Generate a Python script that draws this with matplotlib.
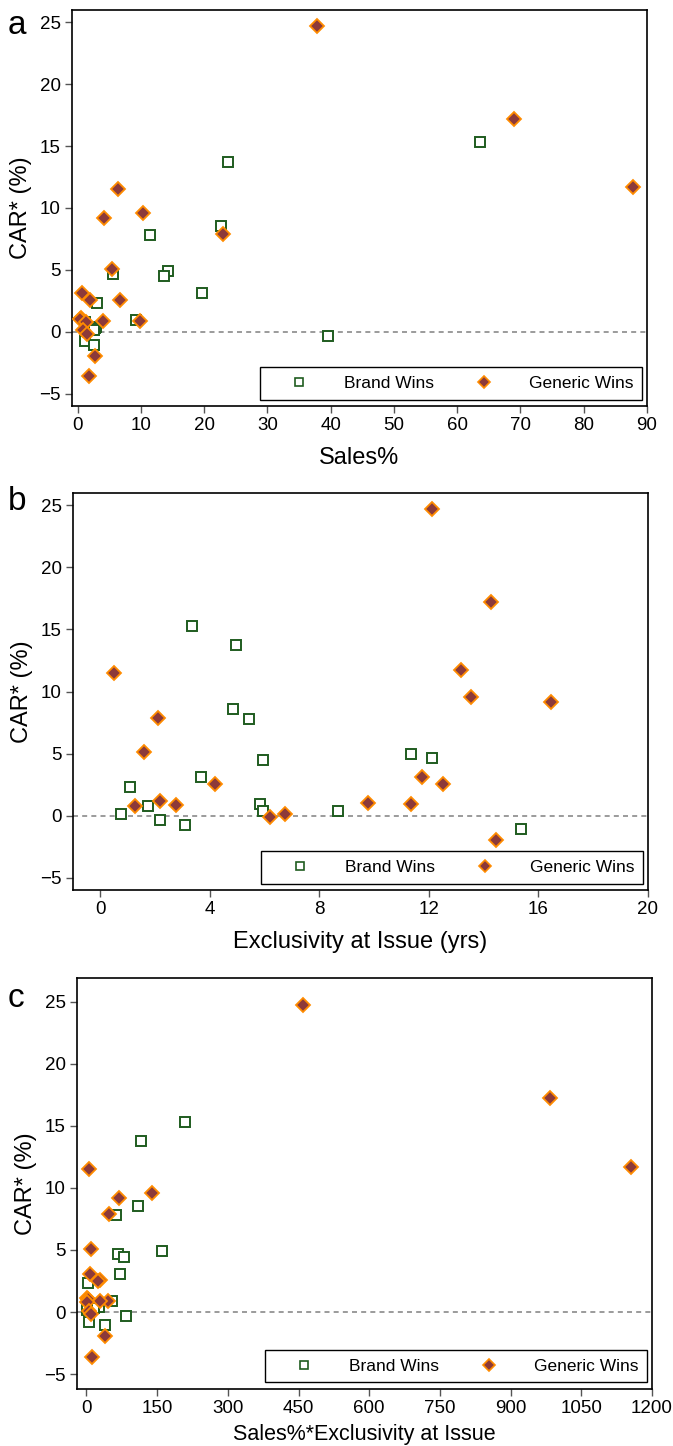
import numpy as np
import matplotlib
matplotlib.use("Agg")
import matplotlib.pyplot as plt
from matplotlib.lines import Line2D

# ---- data ----
# Brand wins
brand_car = [15.3, 13.75, 8.55, 7.8, 4.93, 4.66, 4.47, 3.1, 2.34, 0.92, 0.75, 0.38, 0.33, 0.13, -0.33, -0.78, -1.05]
brand_sales = [63.6, 23.8, 22.7, 11.4, 14.2, 5.6, 13.6, 19.7, 3.0, 9.2, 1.2, 2.9, 2.8, 2.5, 39.6, 1.2, 2.5]
brand_excl = [3.35, 4.94, 4.84, 5.43, 11.35, 12.1, 5.93, 3.67, 1.08, 5.84, 1.75, 8.67, 5.93, 0.75, 2.17, 3.09, 15.36]
brand_prod = [210, 116, 109.5, 62, 160, 67.6, 80.2, 71.8, 3.5, 54.4, 3.0, 25.8, 15.3, 1.5, 85, 5.6, 38.4]

# Generic wins
generic_car = [24.7, 17.2, 11.7, 11.53, 9.57, 9.18, 7.9, 5.1, 3.1, 2.56, 2.53,
               1.15, 1.05, 0.9, 0.87, 0.78, 0.12, -0.15, -1.95, -3.6]
generic_sales = [37.9, 69.0, 87.8, 6.3, 10.4, 4.2, 22.9, 5.4, 0.63, 6.75, 2.0,
                 0.45, 0.4, 4.0, 9.9, 1.37, 0.8, 1.48, 2.75, 1.8]
generic_excl = [12.1, 14.27, 13.18, 0.51, 13.52, 16.44, 2.09, 1.59, 11.76, 4.17, 12.52,
                2.17, 9.76, 11.35, 2.76, 1.27, 6.76, 6.18, 14.44, 6.9]
generic_prod = [460, 984, 1155, 4.9, 138.8, 68.3, 48.1, 9.1, 8.4, 27.9, 25.0,
                1.0, 3.9, 46.0, 27.9, 1.7, 4.9, 9.1, 39.0, 12.5]

panels = [
    ("a", brand_sales, generic_sales, "Sales%", (-0.9, 90), np.arange(0, 91, 10), (-6, 26), 17, 9),
    ("b", brand_excl, generic_excl, "Exclusivity at Issue (yrs)", (-1, 20), np.arange(0, 21, 4), (-6, 26), 17, 9),
    ("c", brand_prod, generic_prod, "Sales%*Exclusivity at Issue", (-20, 1200), np.arange(0, 1201, 150), (-6.2, 26.9), 15.5, 5),
]

# axes boxes in pixels: left, right, top, bottom
W, H = 673, 1446
boxes = [(72, 647, 10, 406), (73, 648, 493, 890), (77, 652, 978, 1389)]
letter_top = [10, 486, 983]

plt.rcParams['font.family'] = ['Liberation Sans', 'DejaVu Sans']

green = '#1f5c1f'
maroon = '#8c3a3a'
orange = '#ff8c00'

fig = plt.figure(figsize=(W / 100, H / 100), dpi=100)

for (letter, bx, gx, xlabel, xlim, xticks, ylim, xfs, lpad), (l, r, t, b), lt in zip(panels, boxes, letter_top):
    ax = fig.add_axes([l / W, 1 - b / H, (r - l) / W, (b - t) / H])
    ax.axhline(0, color='#8a8a8a', lw=1.2, ls=(0, (3, 2.5)), zorder=1)
    ax.plot(bx, brand_car, ls='none', marker='s', ms=7, mfc='white', mec=green, mew=1.4, zorder=3)
    ax.plot(gx, generic_car, ls='none', marker='D', ms=7, mfc=maroon, mec=orange, mew=1.3, zorder=4)
    ax.set_xlim(*xlim)
    ax.set_ylim(*ylim)
    ax.set_xticks(xticks)
    ax.set_yticks(np.arange(-5, 26, 5))
    ax.tick_params(direction='out', length=5, width=1, color='#555555', labelsize=13.5, pad=3)
    for s in ax.spines.values():
        s.set_linewidth(1.2)
    ax.set_xlabel(xlabel, fontsize=xfs, labelpad=lpad)
    ax.set_ylabel("CAR* (%)", fontsize=17, labelpad=5)
    fig.text(8 / W, 1 - lt / H, letter, fontsize=24, va='top', ha='left')

    handles = [
        Line2D([], [], ls='none', marker='s', ms=5.5, mfc='white', mec=green, mew=1.2),
        Line2D([], [], ls='none', marker='D', ms=6, mfc=maroon, mec=orange, mew=1.2),
    ]
    leg = ax.legend(handles, ["Brand Wins", "Generic Wins"], ncol=2, loc='lower left',
                    bbox_to_anchor=(0.327, 0.016, 0.665, 0.078), mode='expand',
                    borderaxespad=0, fontsize=12.5, handlelength=3.5, handletextpad=0.85,
                    borderpad=0.5, frameon=True, fancybox=False, framealpha=1)
    leg.get_frame().set_edgecolor('black')
    leg.get_frame().set_linewidth(1.0)
    leg.set_zorder(10)

fig.savefig("out.png", dpi=100)
